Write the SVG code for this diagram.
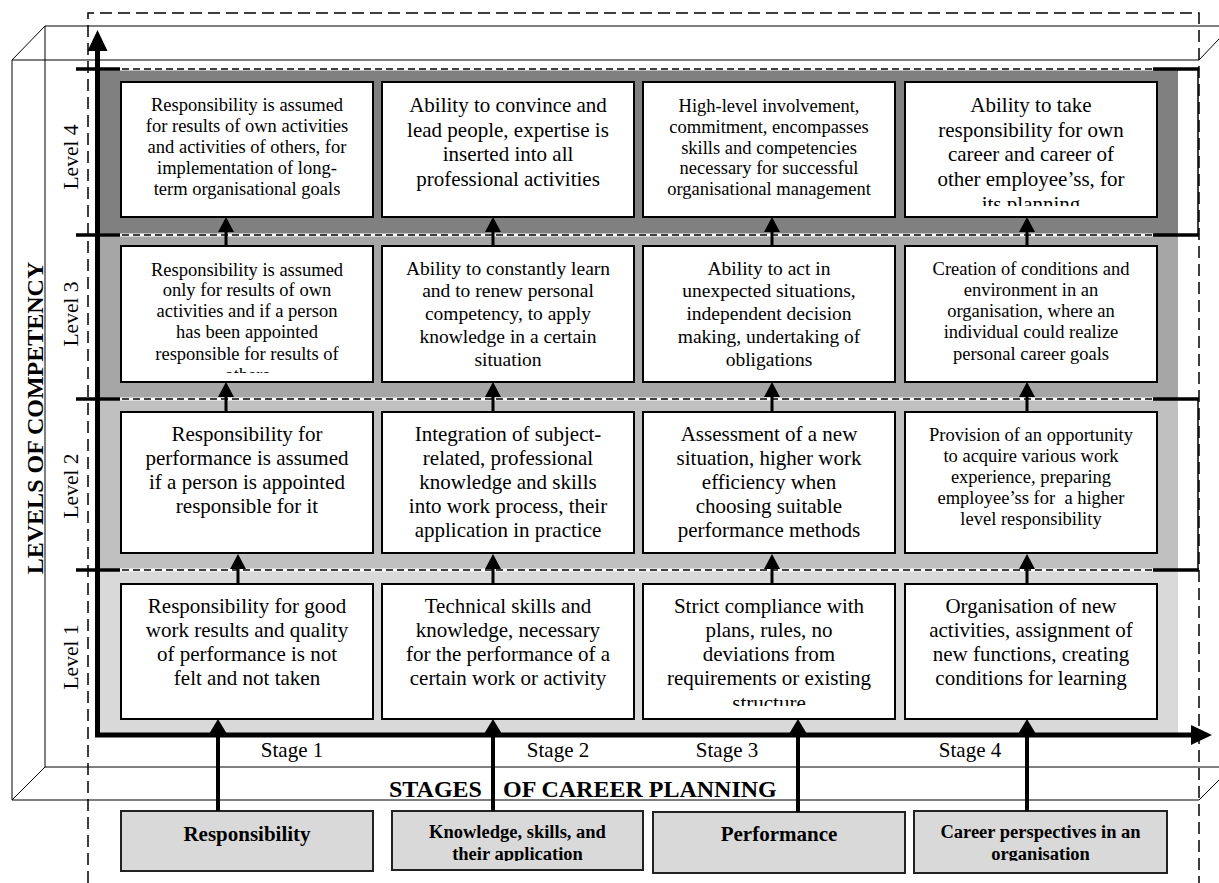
<svg xmlns="http://www.w3.org/2000/svg" width="1219" height="883" viewBox="0 0 1219 883">
<style>
.box{fill:#fff;stroke:#000;stroke-width:2}
.bbox{fill:#d9d9d9;stroke:#222;stroke-width:2}
.t{font-family:"Liberation Serif","Times New Roman",serif;fill:#000;text-anchor:middle}
.big{font-size:21px}
.md{font-size:19.5px}
.sm{font-size:18.5px}
.b{font-weight:bold}
.frame{stroke:#000;stroke-width:1;fill:none}
.dash{stroke:#000;stroke-width:1.5;stroke-dasharray:12 6;fill:none}
.bw{stroke:#fff;stroke-width:3}
.bl{stroke:#000;stroke-width:1.5;stroke-dasharray:7 4}
.tick{stroke:#000;stroke-width:3.5}
.arr{stroke:#000;stroke-width:3;marker-end:url(#ah)}
.arrb{stroke:#000;stroke-width:4;marker-end:url(#ahb)}
.axis{stroke:#000;stroke-width:5;fill:none}
</style>
<defs>
<marker id="ah" markerUnits="userSpaceOnUse" markerWidth="15" markerHeight="16" viewBox="0 0 15 16" refX="5" refY="8" orient="auto"><path d="M0,0 L15,8 L0,16 Z" fill="#000"/></marker>
<marker id="ahb" markerUnits="userSpaceOnUse" markerWidth="15" markerHeight="18" viewBox="0 0 15 18" refX="5" refY="9" orient="auto"><path d="M0,0 L15,9 L0,18 Z" fill="#000"/></marker>
<clipPath id="c44"><rect x="905" y="82" width="252" height="124"/></clipPath>
<clipPath id="c31"><rect x="121" y="246" width="252" height="127"/></clipPath>
<clipPath id="c13"><rect x="643" y="584" width="252" height="122"/></clipPath>
<clipPath id="cb2"><rect x="392" y="811" width="251" height="50"/></clipPath>
<clipPath id="cb4"><rect x="914" y="811" width="253" height="50"/></clipPath>
</defs>

<g id="frame">
<line class="frame" x1="45" y1="26" x2="1219" y2="26"/>
<line class="frame" x1="45" y1="26" x2="45" y2="767"/>
<line class="frame" x1="45" y1="767" x2="1219" y2="767"/>
<line class="frame" x1="12" y1="60" x2="1199" y2="60"/>
<line class="frame" x1="12" y1="60" x2="12" y2="800"/>
<line class="frame" x1="12" y1="800" x2="1199" y2="800"/>
<line class="frame" x1="12" y1="60" x2="45" y2="26"/>
<line class="frame" x1="12" y1="800" x2="45" y2="767"/>
<line class="frame" x1="1199" y1="60" x2="1219" y2="39"/>
<line class="frame" x1="1199" y1="800" x2="1219" y2="780"/>
<path class="dash" d="M88,883 L88,13 L1199,13 L1199,883"/>
</g>

<g id="bands">
<rect x="100" y="69" width="1078" height="166" fill="#808080"/>
<rect x="100" y="235" width="1078" height="164" fill="#a6a6a6"/>
<rect x="100" y="399" width="1078" height="171" fill="#c0c0c0"/>
<rect x="100" y="570" width="1078" height="165" fill="#d9d9d9"/>
<line class="bw" x1="100" y1="69" x2="1155" y2="69"/><line class="bl" x1="100" y1="69" x2="1155" y2="69"/>
<line class="bw" x1="100" y1="235" x2="1155" y2="235"/><line class="bl" x1="100" y1="235" x2="1155" y2="235"/>
<line class="bw" x1="100" y1="399" x2="1155" y2="399"/><line class="bl" x1="100" y1="399" x2="1155" y2="399"/>
<line class="bw" x1="100" y1="570" x2="1155" y2="570"/><line class="bl" x1="100" y1="570" x2="1155" y2="570"/>
<line class="tick" x1="76" y1="69" x2="120" y2="69"/>
<line class="tick" x1="76" y1="235" x2="120" y2="235"/>
<line class="tick" x1="76" y1="399" x2="120" y2="399"/>
<line class="tick" x1="76" y1="570" x2="120" y2="570"/>
<line class="tick" x1="1153" y1="69" x2="1199" y2="69"/>
<line class="tick" x1="1153" y1="235" x2="1199" y2="235"/>
<line class="tick" x1="1153" y1="399" x2="1199" y2="399"/>
<line class="tick" x1="1153" y1="570" x2="1199" y2="570"/>
<line x1="1198" y1="69" x2="1198" y2="235" stroke="#000" stroke-width="1.5"/>
<line x1="1198" y1="399" x2="1198" y2="570" stroke="#000" stroke-width="1.5"/>
</g>

<g id="labels">
<text class="t b" font-size="24" transform="translate(43,418) rotate(-90)">LEVELS OF COMPETENCY</text>
<text class="t" font-size="21.5" transform="translate(78,157) rotate(-90)">Level 4</text>
<text class="t" font-size="21.5" transform="translate(78,314) rotate(-90)">Level 3</text>
<text class="t" font-size="21.5" transform="translate(78,486) rotate(-90)">Level 2</text>
<text class="t" font-size="21.5" transform="translate(78,657) rotate(-90)">Level 1</text>
<text class="t big" x="292" y="757">Stage 1</text>
<text class="t big" x="558" y="757">Stage 2</text>
<text class="t big" x="727" y="757">Stage 3</text>
<text class="t big" x="970" y="757">Stage 4</text>
<text class="t b" font-size="24" y="797" style="text-anchor:start"><tspan x="389">STAGES</tspan><tspan x="503">OF CAREER PLANNING</tspan></text>
</g>

<g id="n-l4-c1"><rect class="box" x="121" y="82" width="252" height="135"/>
<text class="t sm"><tspan x="247" y="111">Responsibility is assumed</tspan><tspan x="247" y="132">for results of own activities</tspan><tspan x="247" y="153">and activities of others, for</tspan><tspan x="247" y="174">implementation of long-</tspan><tspan x="247" y="195">term organisational goals</tspan></text></g>
<g id="n-l4-c2"><rect class="box" x="382" y="82" width="252" height="135"/>
<text class="t big"><tspan x="508" y="112">Ability to convince and</tspan><tspan x="508" y="136.5">lead people, expertise is</tspan><tspan x="508" y="161">inserted into all</tspan><tspan x="508" y="185.5">professional activities</tspan></text></g>
<g id="n-l4-c3"><rect class="box" x="643" y="82" width="252" height="135"/>
<text class="t sm"><tspan x="769" y="112">High-level involvement,</tspan><tspan x="769" y="133">commitment, encompasses</tspan><tspan x="769" y="154">skills and competencies</tspan><tspan x="769" y="174">necessary for successful</tspan><tspan x="769" y="195">organisational management</tspan></text></g>
<g id="n-l4-c4"><rect class="box" x="905" y="82" width="252" height="135"/>
<text class="t big" clip-path="url(#c44)"><tspan x="1031" y="112">Ability to take</tspan><tspan x="1031" y="136.5">responsibility for own</tspan><tspan x="1031" y="161">career and career of</tspan><tspan x="1031" y="186">other employee’ss, for</tspan><tspan x="1031" y="210.5">its planning</tspan></text></g>

<g id="n-l3-c1"><rect class="box" x="121" y="246" width="252" height="136"/>
<text class="t sm" clip-path="url(#c31)"><tspan x="247" y="276">Responsibility is assumed</tspan><tspan x="247" y="296">only for results of own</tspan><tspan x="247" y="317">activities and if a person</tspan><tspan x="247" y="338">has been appointed</tspan><tspan x="247" y="360">responsible for results of</tspan><tspan x="247" y="381">others</tspan></text></g>
<g id="n-l3-c2"><rect class="box" x="382" y="246" width="252" height="136"/>
<text class="t md"><tspan x="508" y="275">Ability to constantly learn</tspan><tspan x="508" y="297">and to renew personal</tspan><tspan x="508" y="320">competency, to apply</tspan><tspan x="508" y="343">knowledge in a certain</tspan><tspan x="508" y="366">situation</tspan></text></g>
<g id="n-l3-c3"><rect class="box" x="643" y="246" width="252" height="136"/>
<text class="t md"><tspan x="769" y="275">Ability to act in</tspan><tspan x="769" y="297">unexpected situations,</tspan><tspan x="769" y="320">independent decision</tspan><tspan x="769" y="343">making, undertaking of</tspan><tspan x="769" y="366">obligations</tspan></text></g>
<g id="n-l3-c4"><rect class="box" x="905" y="246" width="252" height="136"/>
<text class="t sm"><tspan x="1031" y="275">Creation of conditions and</tspan><tspan x="1031" y="296">environment in an</tspan><tspan x="1031" y="317">organisation, where an</tspan><tspan x="1031" y="338">individual could realize</tspan><tspan x="1031" y="360">personal career goals</tspan></text></g>

<g id="n-l2-c1"><rect class="box" x="121" y="412" width="252" height="141"/>
<text class="t big"><tspan x="247" y="441">Responsibility for</tspan><tspan x="247" y="465">performance is assumed</tspan><tspan x="247" y="489">if a person is appointed</tspan><tspan x="247" y="513">responsible for it</tspan></text></g>
<g id="n-l2-c2"><rect class="box" x="382" y="412" width="252" height="141"/>
<text class="t big"><tspan x="508" y="441">Integration of subject-</tspan><tspan x="508" y="465">related, professional</tspan><tspan x="508" y="489">knowledge and skills</tspan><tspan x="508" y="513">into work process, their</tspan><tspan x="508" y="537">application in practice</tspan></text></g>
<g id="n-l2-c3"><rect class="box" x="643" y="412" width="252" height="141"/>
<text class="t big"><tspan x="769" y="441">Assessment of a new</tspan><tspan x="769" y="465">situation, higher work</tspan><tspan x="769" y="489">efficiency when</tspan><tspan x="769" y="513">choosing suitable</tspan><tspan x="769" y="537">performance methods</tspan></text></g>
<g id="n-l2-c4"><rect class="box" x="905" y="412" width="252" height="141"/>
<text class="t sm" xml:space="preserve"><tspan x="1031" y="441">Provision of an opportunity</tspan><tspan x="1031" y="462">to acquire various work</tspan><tspan x="1031" y="483">experience, preparing</tspan><tspan x="1031" y="504">employee’ss for  a higher</tspan><tspan x="1031" y="525">level responsibility</tspan></text></g>

<g id="n-l1-c1"><rect class="box" x="121" y="584" width="252" height="135"/>
<text class="t big"><tspan x="247" y="613">Responsibility for good</tspan><tspan x="247" y="637">work results and quality</tspan><tspan x="247" y="661">of performance is not</tspan><tspan x="247" y="685">felt and not taken</tspan></text></g>
<g id="n-l1-c2"><rect class="box" x="382" y="584" width="252" height="135"/>
<text class="t big"><tspan x="508" y="613">Technical skills and</tspan><tspan x="508" y="637">knowledge, necessary</tspan><tspan x="508" y="661">for the performance of a</tspan><tspan x="508" y="685">certain work or activity</tspan></text></g>
<g id="n-l1-c3"><rect class="box" x="643" y="584" width="252" height="135"/>
<text class="t big" clip-path="url(#c13)"><tspan x="769" y="613">Strict compliance with</tspan><tspan x="769" y="637">plans, rules, no</tspan><tspan x="769" y="661">deviations from</tspan><tspan x="769" y="685">requirements or existing</tspan><tspan x="769" y="710">structure</tspan></text></g>
<g id="n-l1-c4"><rect class="box" x="905" y="584" width="252" height="135"/>
<text class="t big"><tspan x="1031" y="613">Organisation of new</tspan><tspan x="1031" y="637">activities, assignment of</tspan><tspan x="1031" y="661">new functions, creating</tspan><tspan x="1031" y="685">conditions for learning</tspan></text></g>

<g id="n-b1"><rect class="bbox" x="121" y="811" width="252" height="60"/>
<text class="t b big" x="247" y="841">Responsibility</text></g>
<g id="n-b2"><rect class="bbox" x="392" y="811" width="251" height="59"/>
<text class="t b sm" clip-path="url(#cb2)"><tspan x="517.5" y="838">Knowledge, skills, and</tspan><tspan x="517.5" y="860">their application</tspan></text></g>
<g id="n-b3"><rect class="bbox" x="653" y="812" width="252" height="61"/>
<text class="t b big" x="779" y="841">Performance</text></g>
<g id="n-b4"><rect class="bbox" x="914" y="811" width="253" height="62"/>
<text class="t b sm" clip-path="url(#cb4)"><tspan x="1040.5" y="838">Career perspectives in an</tspan><tspan x="1040.5" y="860">organisation</tspan></text></g>

<g id="connectors">
<line class="arr" x1="226" y1="246" x2="226" y2="227"/>
<line class="arr" x1="226" y1="412" x2="226" y2="392"/>
<line class="arr" x1="238" y1="584" x2="238" y2="564"/>
<line class="arr" x1="493" y1="246" x2="493" y2="227"/>
<line class="arr" x1="493" y1="412" x2="493" y2="392"/>
<line class="arr" x1="493" y1="584" x2="493" y2="564"/>
<line class="arr" x1="772" y1="246" x2="772" y2="227"/>
<line class="arr" x1="772" y1="412" x2="772" y2="392"/>
<line class="arr" x1="772" y1="584" x2="772" y2="564"/>
<line class="arr" x1="1027" y1="246" x2="1027" y2="227"/>
<line class="arr" x1="1027" y1="412" x2="1027" y2="392"/>
<line class="arr" x1="1027" y1="584" x2="1027" y2="564"/>
<line class="arrb" x1="218" y1="811" x2="218" y2="729"/>
<line class="arrb" x1="493" y1="811" x2="493" y2="729"/>
<line class="arrb" x1="798" y1="812" x2="798" y2="729"/>
<line class="arrb" x1="1027" y1="811" x2="1027" y2="729"/>
</g>

<g id="axes">
<path class="axis" d="M97.5,48 L97.5,735 L1193,735"/>
<polygon points="97.5,30 87.5,51 107.5,51" fill="#000"/>
<polygon points="1212,735 1191,725 1191,745" fill="#000"/>
</g>
</svg>
